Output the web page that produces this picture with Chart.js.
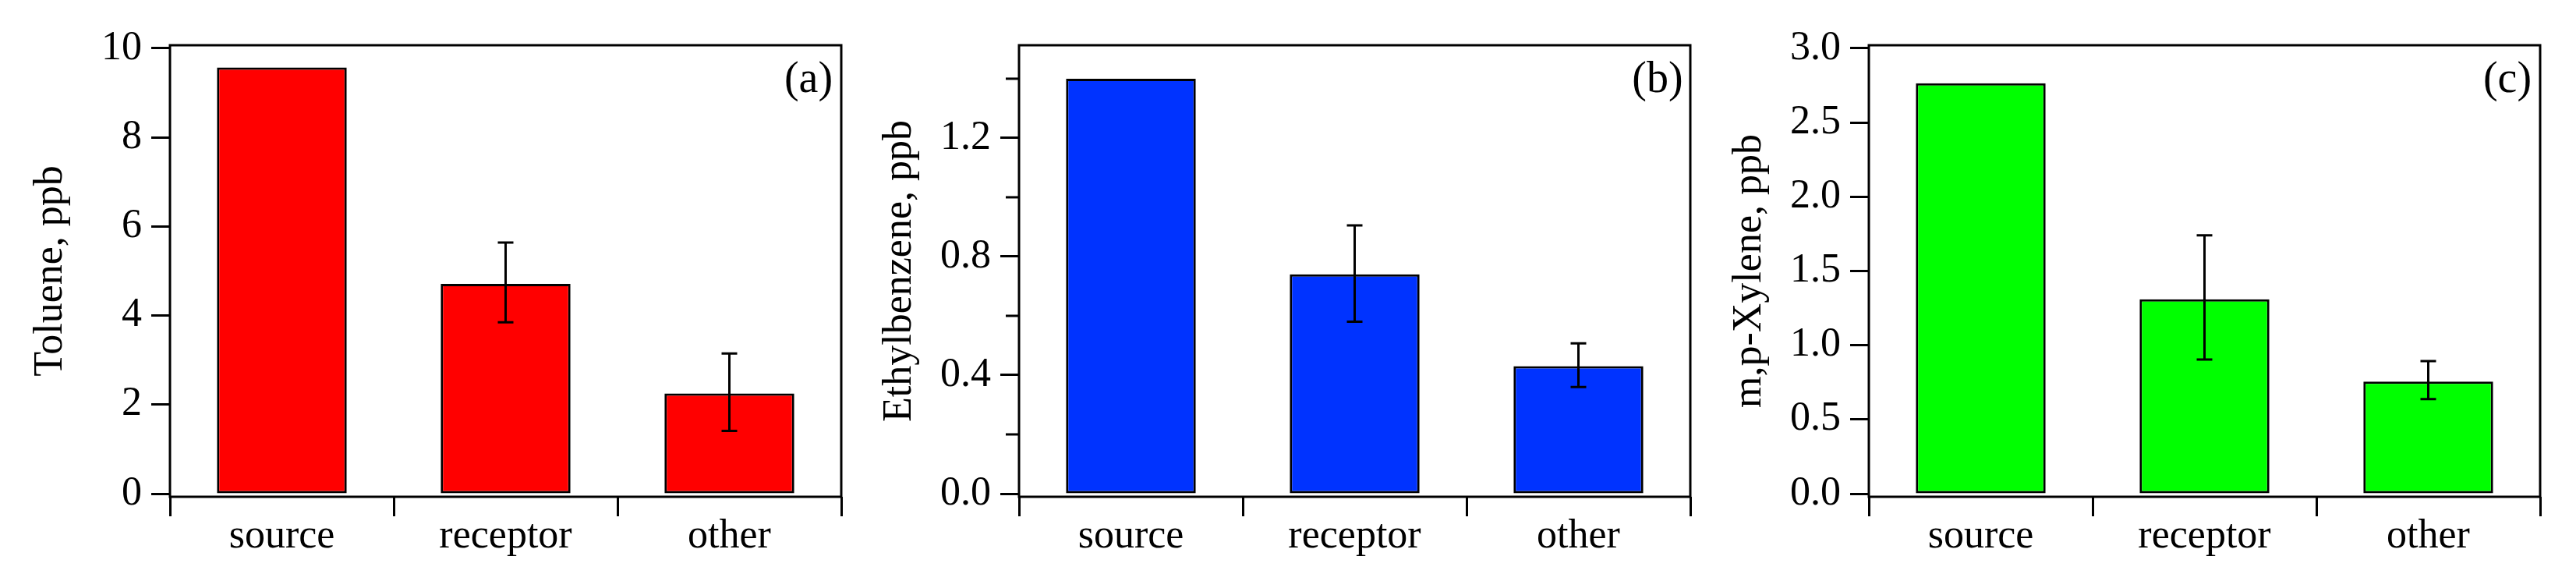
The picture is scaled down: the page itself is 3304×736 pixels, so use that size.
<!DOCTYPE html>
<html>
<head>
<meta charset="utf-8">
<script src="https://cdn.jsdelivr.net/npm/chart.js@4.4.1/dist/chart.umd.min.js"></script>
<style>
  html, body { margin: 0; padding: 0; background: #ffffff; }
  #pannelli { position: relative; width: 3304px; height: 736px; }
  #pannelli canvas { position: absolute; top: 0; }
</style>
</head>
<body>
<div id="pannelli">
  <canvas id="grafico-a" width="1089" height="736" style="left:0px"></canvas>
  <canvas id="grafico-b" width="1089" height="736" style="left:1089px"></canvas>
  <canvas id="grafico-c" width="1089" height="736" style="left:2179px"></canvas>
</div>
<script>
// ============================================================
// DATI (ppb), errori solo per receptor/other
// ============================================================
const categorie = ["source", "receptor", "other"];

const toluene = [9.57, 4.71, 2.25];
const tolueneErrMin = [null, 3.85, 1.41];
const tolueneErrMax = [null, 5.64, 3.15];
const tickToluene = [0, 2, 4, 6, 8, 10];

const etilbenzene = [1.40, 0.74, 0.43];
const etilbenzeneErrMin = [null, 0.58, 0.36];
const etilbenzeneErrMax = [null, 0.905, 0.507];
const tickEtilbenzene = [0, 0.4, 0.8, 1.2];
const tickMinoriEtilbenzene = [0.2, 0.6, 1.0, 1.4];

const xilene = [2.765, 1.31, 0.755];
const xileneErrMin = [null, 0.904, 0.637];
const xileneErrMax = [null, 1.741, 0.893];
const tickXilene = [0, 0.5, 1.0, 1.5, 2.0, 2.5, 3.0];

// ============================================================
// GRAFICI - tre pannelli a barre con barre d'errore
// ============================================================
const Pannelli = (function () {
  const NERO = "#000000";
  const fontAssi = { family: "'Liberation Serif', 'Times New Roman', serif", size: 52, lineHeight: 1 };

  /**
   * Plugin che disegna la cornice del pannello, la lettera (a)/(b)/(c),
   * le tacche minori dell'asse y e le barre d'errore.
   */
  function pluginDecorazioni(cfg) {
    return {
      id: "decorazioni",
      afterDatasetsDraw: function (chart) {
        const ctx = chart.ctx;
        const dataset = chart.data.datasets[0];
        const meta = chart.getDatasetMeta(0);
        const scalaY = chart.scales.y;
        ctx.save();
        ctx.strokeStyle = NERO;
        ctx.lineWidth = 3;
        meta.data.forEach(function (barra, i) {
          if (dataset.errMin[i] == null) return;
          const yMin = scalaY.getPixelForValue(dataset.errMin[i]);
          const yMax = scalaY.getPixelForValue(dataset.errMax[i]);
          ctx.beginPath();
          ctx.moveTo(barra.x, yMin);
          ctx.lineTo(barra.x, yMax);
          ctx.moveTo(barra.x - 10, yMin);
          ctx.lineTo(barra.x + 10, yMin);
          ctx.moveTo(barra.x - 10, yMax);
          ctx.lineTo(barra.x + 10, yMax);
          ctx.stroke();
        });
        ctx.restore();
      },
      afterDraw: function (chart) {
        const ctx = chart.ctx;
        const area = chart.chartArea;
        const scalaY = chart.scales.y;
        ctx.save();
        ctx.strokeStyle = NERO;
        ctx.lineWidth = 3;
        ctx.strokeRect(area.left, area.top, area.right - area.left, area.bottom - area.top);

        // tacche minori, piu' corte di quelle principali
        (cfg.tickMinori || []).forEach(function (v) {
          const y = scalaY.getPixelForValue(v);
          ctx.beginPath();
          ctx.moveTo(area.left - 17, y);
          ctx.lineTo(area.left, y);
          ctx.stroke();
        });

        ctx.fillStyle = NERO;
        ctx.font = "56px 'Liberation Serif', 'Times New Roman', serif";
        ctx.textAlign = "center";
        ctx.textBaseline = "alphabetic";
        ctx.fillText(cfg.lettera, area.right - 42, area.top + 60);
        ctx.restore();
      }
    };
  }

  function creaPannello(idCanvas, cfg) {
    const canvas = document.getElementById(idCanvas);
    if (!canvas) return null;

    return new Chart(canvas, {
      type: "bar",
      data: {
        labels: categorie,
        datasets: [{
          data: cfg.valori,
          errMin: cfg.errMin,
          errMax: cfg.errMax,
          backgroundColor: cfg.colore,
          borderColor: NERO,
          borderWidth: 3,
          borderSkipped: false,
          barPercentage: 0.58,
          categoryPercentage: 1
        }]
      },
      options: {
        responsive: false,
        animation: false,
        layout: { padding: { top: 58, right: 10, left: 0, bottom: 0 } },
        plugins: { legend: { display: false }, tooltip: { enabled: false } },
        scales: {
          x: {
            border: { display: false },
            grid: { offset: true, drawOnChartArea: false, tickLength: 25, tickWidth: 3, tickColor: NERO },
            ticks: { padding: 0, color: NERO, font: fontAssi },
            afterFit: function (scala) { scala.height = 99; }
          },
          y: {
            min: cfg.min,
            max: cfg.max,
            border: { display: false },
            grid: { drawOnChartArea: false, tickLength: 24, tickWidth: 3, tickColor: NERO },
            afterBuildTicks: function (scala) {
              scala.ticks = cfg.tick.map(function (v) { return { value: v }; });
            },
            ticks: {
              padding: 12,
              color: NERO,
              font: fontAssi,
              callback: function (v) { return Number(v).toFixed(cfg.decimali); }
            },
            title: {
              display: true,
              text: cfg.titolo,
              color: NERO,
              font: fontAssi,
              padding: { top: cfg.spostamentoTitolo, bottom: 0 }
            },
            afterFit: function (scala) { scala.width = 218; }
          }
        }
      },
      plugins: [pluginDecorazioni(cfg)]
    });
  }

  function disegnaTutto() {
    creaPannello("grafico-a", {
      valori: toluene, errMin: tolueneErrMin, errMax: tolueneErrMax,
      colore: "#ff0000", titolo: "Toluene, ppb", lettera: "(a)",
      min: -0.07, max: 10.07, tick: tickToluene, decimali: 0,
      spostamentoTitolo: 39
    });
    creaPannello("grafico-b", {
      valori: etilbenzene, errMin: etilbenzeneErrMin, errMax: etilbenzeneErrMax,
      colore: "#0033ff", titolo: "Ethylbenzene, ppb", lettera: "(b)",
      min: -0.0105, max: 1.513, tick: tickEtilbenzene, tickMinori: tickMinoriEtilbenzene, decimali: 1,
      spostamentoTitolo: 39
    });
    creaPannello("grafico-c", {
      valori: xilene, errMin: xileneErrMin, errMax: xileneErrMax,
      colore: "#00ff00", titolo: "m,p-Xylene, ppb", lettera: "(c)",
      min: -0.021, max: 3.021, tick: tickXilene, decimali: 1,
      spostamentoTitolo: 39
    });
  }

  return { disegnaTutto: disegnaTutto };
})();

Pannelli.disegnaTutto();
</script>
</body>
</html>
